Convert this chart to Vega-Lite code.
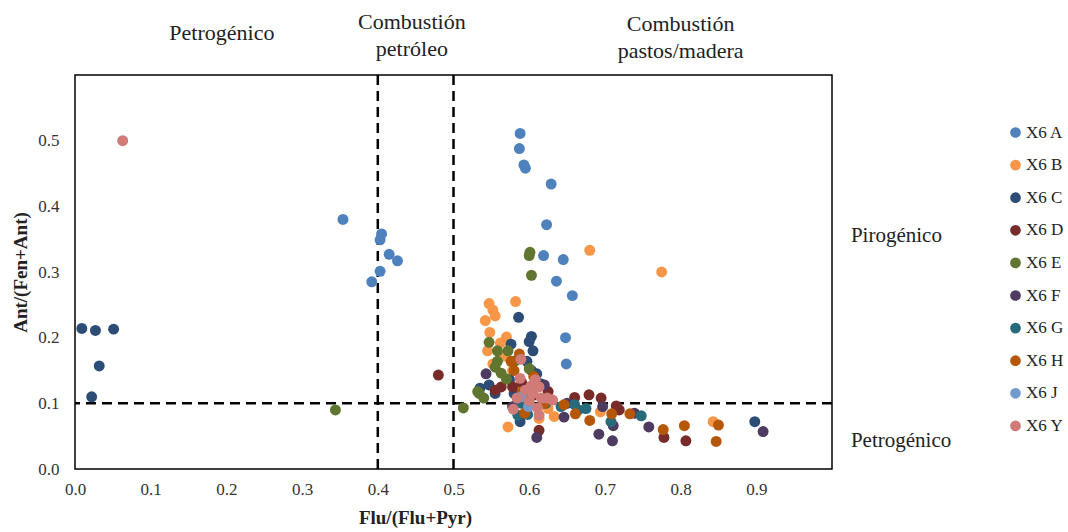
{
  "$schema": "https://vega.github.io/schema/vega-lite/v6.json",
  "width": 757,
  "height": 394,
  "autosize": {"type": "none"},
  "padding": {"left": 75, "top": 75, "right": 236, "bottom": 63},
  "background": "white",
  "config": {
    "view": {"stroke": "black", "strokeWidth": 1.5},
    "font": "Liberation Serif",
    "axis": {
      "grid": false, "ticks": false, "domain": false, "labelFlush": false,
      "labelFont": "Liberation Serif", "labelFontSize": 17, "labelColor": "#333333",
      "titleFont": "Liberation Serif", "titleFontSize": 19, "titleFontWeight": "bold", "titleColor": "#222222"
    },
    "legend": {"labelFont": "Liberation Serif"}
  },
  "layer": [
    {
      "data": {"values": [{"xv": 0.4}, {"xv": 0.5}]},
      "mark": {"type": "rule", "color": "black", "strokeWidth": 2.5, "strokeDash": [10, 6]},
      "encoding": {
        "x": {"field": "xv", "type": "quantitative", "scale": {"domain": [0, 1], "nice": false, "zero": false}}
      }
    },
    {
      "data": {"values": [{"yv": 0.1}]},
      "mark": {"type": "rule", "color": "black", "strokeWidth": 2.5, "strokeDash": [10, 6]},
      "encoding": {
        "y": {"field": "yv", "type": "quantitative", "scale": {"domain": [0, 0.6], "nice": false, "zero": false}}
      }
    },
    {
      "data": {"values": [
        {"s": "X6 A", "x": 0.588, "y": 0.511},
        {"s": "X6 A", "x": 0.587, "y": 0.488},
        {"s": "X6 A", "x": 0.593, "y": 0.463},
        {"s": "X6 A", "x": 0.595, "y": 0.458},
        {"s": "X6 A", "x": 0.629, "y": 0.434},
        {"s": "X6 A", "x": 0.623, "y": 0.372},
        {"s": "X6 A", "x": 0.619, "y": 0.325},
        {"s": "X6 A", "x": 0.645, "y": 0.319},
        {"s": "X6 A", "x": 0.636, "y": 0.286},
        {"s": "X6 A", "x": 0.657, "y": 0.264},
        {"s": "X6 A", "x": 0.648, "y": 0.200},
        {"s": "X6 A", "x": 0.649, "y": 0.160},
        {"s": "X6 A", "x": 0.354, "y": 0.380},
        {"s": "X6 A", "x": 0.405, "y": 0.358},
        {"s": "X6 A", "x": 0.403, "y": 0.349},
        {"s": "X6 A", "x": 0.415, "y": 0.327},
        {"s": "X6 A", "x": 0.426, "y": 0.317},
        {"s": "X6 A", "x": 0.403, "y": 0.301},
        {"s": "X6 A", "x": 0.392, "y": 0.285},
        {"s": "X6 B", "x": 0.680, "y": 0.333},
        {"s": "X6 B", "x": 0.775, "y": 0.300},
        {"s": "X6 B", "x": 0.582, "y": 0.255},
        {"s": "X6 B", "x": 0.547, "y": 0.252},
        {"s": "X6 B", "x": 0.552, "y": 0.242},
        {"s": "X6 B", "x": 0.555, "y": 0.233},
        {"s": "X6 B", "x": 0.542, "y": 0.226},
        {"s": "X6 B", "x": 0.548, "y": 0.208},
        {"s": "X6 B", "x": 0.570, "y": 0.201},
        {"s": "X6 B", "x": 0.545, "y": 0.180},
        {"s": "X6 B", "x": 0.562, "y": 0.192},
        {"s": "X6 B", "x": 0.566, "y": 0.172},
        {"s": "X6 B", "x": 0.552, "y": 0.160},
        {"s": "X6 B", "x": 0.578, "y": 0.150},
        {"s": "X6 B", "x": 0.590, "y": 0.120},
        {"s": "X6 B", "x": 0.572, "y": 0.064},
        {"s": "X6 B", "x": 0.613, "y": 0.077},
        {"s": "X6 B", "x": 0.633, "y": 0.080},
        {"s": "X6 B", "x": 0.694, "y": 0.087},
        {"s": "X6 B", "x": 0.843, "y": 0.072},
        {"s": "X6 B", "x": 0.625, "y": 0.092},
        {"s": "X6 B", "x": 0.600, "y": 0.100},
        {"s": "X6 C", "x": 0.009, "y": 0.214},
        {"s": "X6 C", "x": 0.027, "y": 0.211},
        {"s": "X6 C", "x": 0.051, "y": 0.213},
        {"s": "X6 C", "x": 0.032, "y": 0.157},
        {"s": "X6 C", "x": 0.022, "y": 0.110},
        {"s": "X6 C", "x": 0.586, "y": 0.231},
        {"s": "X6 C", "x": 0.603, "y": 0.202},
        {"s": "X6 C", "x": 0.600, "y": 0.194},
        {"s": "X6 C", "x": 0.576, "y": 0.190},
        {"s": "X6 C", "x": 0.605, "y": 0.180},
        {"s": "X6 C", "x": 0.597, "y": 0.164},
        {"s": "X6 C", "x": 0.603, "y": 0.150},
        {"s": "X6 C", "x": 0.610, "y": 0.145},
        {"s": "X6 C", "x": 0.547, "y": 0.128},
        {"s": "X6 C", "x": 0.535, "y": 0.123},
        {"s": "X6 C", "x": 0.574, "y": 0.136},
        {"s": "X6 C", "x": 0.588, "y": 0.072},
        {"s": "X6 C", "x": 0.898, "y": 0.072},
        {"s": "X6 C", "x": 0.615, "y": 0.130},
        {"s": "X6 C", "x": 0.580, "y": 0.115},
        {"s": "X6 C", "x": 0.600, "y": 0.120},
        {"s": "X6 C", "x": 0.555, "y": 0.115},
        {"s": "X6 D", "x": 0.480, "y": 0.143},
        {"s": "X6 D", "x": 0.555, "y": 0.120},
        {"s": "X6 D", "x": 0.563, "y": 0.125},
        {"s": "X6 D", "x": 0.578, "y": 0.125},
        {"s": "X6 D", "x": 0.590, "y": 0.132},
        {"s": "X6 D", "x": 0.605, "y": 0.112},
        {"s": "X6 D", "x": 0.660, "y": 0.109},
        {"s": "X6 D", "x": 0.679, "y": 0.113},
        {"s": "X6 D", "x": 0.695, "y": 0.108},
        {"s": "X6 D", "x": 0.715, "y": 0.096},
        {"s": "X6 D", "x": 0.719, "y": 0.090},
        {"s": "X6 D", "x": 0.613, "y": 0.059},
        {"s": "X6 D", "x": 0.778, "y": 0.048},
        {"s": "X6 D", "x": 0.807, "y": 0.043},
        {"s": "X6 D", "x": 0.625, "y": 0.118},
        {"s": "X6 D", "x": 0.598, "y": 0.095},
        {"s": "X6 E", "x": 0.344, "y": 0.090},
        {"s": "X6 E", "x": 0.513, "y": 0.093},
        {"s": "X6 E", "x": 0.601, "y": 0.330},
        {"s": "X6 E", "x": 0.600, "y": 0.325},
        {"s": "X6 E", "x": 0.603, "y": 0.295},
        {"s": "X6 E", "x": 0.547, "y": 0.193},
        {"s": "X6 E", "x": 0.558, "y": 0.180},
        {"s": "X6 E", "x": 0.572, "y": 0.180},
        {"s": "X6 E", "x": 0.558, "y": 0.164},
        {"s": "X6 E", "x": 0.555, "y": 0.155},
        {"s": "X6 E", "x": 0.600, "y": 0.153},
        {"s": "X6 E", "x": 0.563, "y": 0.146},
        {"s": "X6 E", "x": 0.570, "y": 0.137},
        {"s": "X6 E", "x": 0.534, "y": 0.115},
        {"s": "X6 E", "x": 0.540, "y": 0.108},
        {"s": "X6 E", "x": 0.532, "y": 0.118},
        {"s": "X6 E", "x": 0.582, "y": 0.165},
        {"s": "X6 E", "x": 0.585, "y": 0.105},
        {"s": "X6 F", "x": 0.543, "y": 0.145},
        {"s": "X6 F", "x": 0.620, "y": 0.128},
        {"s": "X6 F", "x": 0.646, "y": 0.079},
        {"s": "X6 F", "x": 0.697, "y": 0.095},
        {"s": "X6 F", "x": 0.711, "y": 0.066},
        {"s": "X6 F", "x": 0.692, "y": 0.053},
        {"s": "X6 F", "x": 0.710, "y": 0.043},
        {"s": "X6 F", "x": 0.739, "y": 0.085},
        {"s": "X6 F", "x": 0.758, "y": 0.064},
        {"s": "X6 F", "x": 0.909, "y": 0.057},
        {"s": "X6 F", "x": 0.610, "y": 0.048},
        {"s": "X6 F", "x": 0.578, "y": 0.095},
        {"s": "X6 F", "x": 0.650, "y": 0.100},
        {"s": "X6 F", "x": 0.598, "y": 0.118},
        {"s": "X6 G", "x": 0.585, "y": 0.082},
        {"s": "X6 G", "x": 0.642, "y": 0.095},
        {"s": "X6 G", "x": 0.660, "y": 0.098},
        {"s": "X6 G", "x": 0.675, "y": 0.092},
        {"s": "X6 G", "x": 0.708, "y": 0.072},
        {"s": "X6 G", "x": 0.748, "y": 0.081},
        {"s": "X6 G", "x": 0.598, "y": 0.083},
        {"s": "X6 G", "x": 0.622, "y": 0.100},
        {"s": "X6 G", "x": 0.590, "y": 0.100},
        {"s": "X6 G", "x": 0.665, "y": 0.090},
        {"s": "X6 H", "x": 0.587, "y": 0.175},
        {"s": "X6 H", "x": 0.576, "y": 0.164},
        {"s": "X6 H", "x": 0.606, "y": 0.141},
        {"s": "X6 H", "x": 0.591, "y": 0.118},
        {"s": "X6 H", "x": 0.596, "y": 0.108},
        {"s": "X6 H", "x": 0.594, "y": 0.085},
        {"s": "X6 H", "x": 0.646, "y": 0.098},
        {"s": "X6 H", "x": 0.661, "y": 0.084},
        {"s": "X6 H", "x": 0.680, "y": 0.074},
        {"s": "X6 H", "x": 0.709, "y": 0.084},
        {"s": "X6 H", "x": 0.733, "y": 0.084},
        {"s": "X6 H", "x": 0.777, "y": 0.060},
        {"s": "X6 H", "x": 0.805, "y": 0.066},
        {"s": "X6 H", "x": 0.850, "y": 0.067},
        {"s": "X6 H", "x": 0.847, "y": 0.042},
        {"s": "X6 H", "x": 0.620, "y": 0.100},
        {"s": "X6 H", "x": 0.580, "y": 0.150},
        {"s": "X6 J", "x": 0.599, "y": 0.095},
        {"s": "X6 J", "x": 0.590, "y": 0.110},
        {"s": "X6 Y", "x": 0.063, "y": 0.500},
        {"s": "X6 Y", "x": 0.589, "y": 0.167},
        {"s": "X6 Y", "x": 0.588, "y": 0.138},
        {"s": "X6 Y", "x": 0.608, "y": 0.136},
        {"s": "X6 Y", "x": 0.603, "y": 0.127},
        {"s": "X6 Y", "x": 0.613, "y": 0.125},
        {"s": "X6 Y", "x": 0.584, "y": 0.108},
        {"s": "X6 Y", "x": 0.616, "y": 0.108},
        {"s": "X6 Y", "x": 0.624, "y": 0.108},
        {"s": "X6 Y", "x": 0.631, "y": 0.105},
        {"s": "X6 Y", "x": 0.579, "y": 0.091},
        {"s": "X6 Y", "x": 0.611, "y": 0.093},
        {"s": "X6 Y", "x": 0.613, "y": 0.082},
        {"s": "X6 Y", "x": 0.600, "y": 0.104},
        {"s": "X6 Y", "x": 0.595, "y": 0.120},
        {"s": "X6 Y", "x": 0.605, "y": 0.115}
      ]},
      "mark": {"type": "point", "filled": true, "opacity": 1, "size": 120},
      "encoding": {
        "x": {"field": "x", "type": "quantitative",
          "scale": {"domain": [0, 1], "nice": false, "zero": false},
          "axis": {"values": [0, 0.1, 0.2, 0.3, 0.4, 0.5, 0.6, 0.7, 0.8, 0.9], "format": ".1f", "labelPadding": 12, "title": "Flu/(Flu+Pyr)", "titlePadding": 11, "titleX": 340}},
        "y": {"field": "y", "type": "quantitative",
          "scale": {"domain": [0, 0.6], "nice": false, "zero": false},
          "axis": {"values": [0, 0.1, 0.2, 0.3, 0.4, 0.5], "format": ".1f", "labelPadding": 16, "title": "Ant/(Fen+Ant)", "titlePadding": 7}},
        "color": {"field": "s", "type": "nominal",
          "scale": {
            "domain": ["X6 A", "X6 B", "X6 C", "X6 D", "X6 E", "X6 F", "X6 G", "X6 H", "X6 J", "X6 Y"],
            "range": ["#4F81BD", "#F79646", "#2C4D75", "#772C2A", "#5F7530", "#4D3B62", "#276A7C", "#B65708", "#729ACA", "#D07B78"]
          },
          "legend": {"title": null, "orient": "none", "legendX": 932, "legendY": 49, "padding": 0,
            "labelFontSize": 17, "labelColor": "#222222", "labelOffset": 2, "rowPadding": 14.6, "symbolSize": 115, "symbolType": "circle"}}
      }
    },
    {
      "data": {"values": [
        {"t": "Petrogénico", "tx": 0.194, "ty": 0.664},
        {"t": "Combustión", "tx": 0.445, "ty": 0.680},
        {"t": "petróleo", "tx": 0.445, "ty": 0.640},
        {"t": "Combustión", "tx": 0.800, "ty": 0.677},
        {"t": "pastos/madera", "tx": 0.800, "ty": 0.636}
      ]},
      "mark": {"type": "text", "fontSize": 22, "color": "#222222", "font": "Liberation Serif", "baseline": "middle", "align": "center"},
      "encoding": {
        "x": {"field": "tx", "type": "quantitative", "scale": {"domain": [0, 1], "nice": false, "zero": false}},
        "y": {"field": "ty", "type": "quantitative", "scale": {"domain": [0, 0.6], "nice": false, "zero": false}},
        "text": {"field": "t"}
      }
    },
    {
      "data": {"values": [
        {"t": "Pirogénico", "tx": 1.025, "ty": 0.355},
        {"t": "Petrogénico", "tx": 1.025, "ty": 0.043}
      ]},
      "mark": {"type": "text", "fontSize": 21, "color": "#222222", "font": "Liberation Serif", "baseline": "middle", "align": "left"},
      "encoding": {
        "x": {"field": "tx", "type": "quantitative", "scale": {"domain": [0, 1], "nice": false, "zero": false}},
        "y": {"field": "ty", "type": "quantitative", "scale": {"domain": [0, 0.6], "nice": false, "zero": false}},
        "text": {"field": "t"}
      }
    }
  ]
}
